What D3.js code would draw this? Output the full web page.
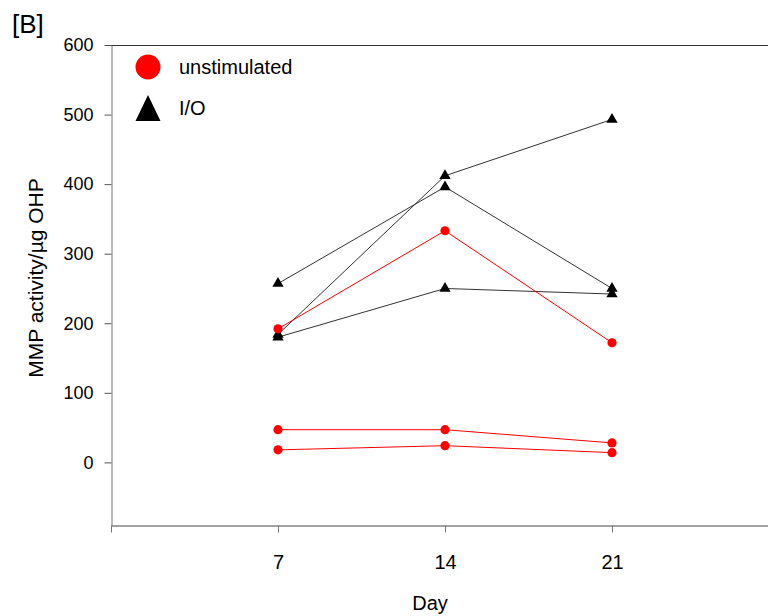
<!DOCTYPE html>
<html>
<head>
<meta charset="utf-8">
<script src="https://cdn.jsdelivr.net/npm/d3@7"></script>
<style>
  html, body { margin: 0; padding: 0; background: #fff; }
  text { font-family: "Liberation Sans", Arial, sans-serif; }
</style>
</head>
<body>
<svg id="chart" width="768" height="616"></svg>
<script>
// ---- data ----
const days = [7, 14, 21];
const xTickValues = [0, 7, 14, 21, 28];
const yTickValues = [0, 100, 200, 300, 400, 500, 600];
const unstimA = [192, 333, 172];
const unstimB = [47, 47, 28];
const unstimC = [18, 24, 14];
const ioA = [257, 396, 250];
const ioB = [184, 412, 493];
const ioC = [180, 250, 242];
const unstimSeries = [unstimA, unstimB, unstimC];
const ioSeries = [ioA, ioB, ioC];
const legendLabels = ["unstimulated", "I/O"];

// ---- layout ----
const svg = d3.select("#chart");
const mLeft = 111, mTop = 45, mBottom = 525, mRight = 779;
const x = d3.scaleLinear().domain([0, 28]).range([mLeft, mRight]);
const y = d3.scaleLinear().domain([-90, 600]).range([mBottom, mTop]);

// frame top line
svg.append("line").attr("x1", mLeft).attr("x2", 768).attr("y1", mTop + 0.5).attr("y2", mTop + 0.5)
  .attr("stroke", "#333").attr("stroke-width", 1);

// y axis
const yAxis = svg.append("g").attr("transform", `translate(${mLeft + 0.5},0)`)
  .call(d3.axisLeft(y).tickValues(yTickValues).tickSize(7).tickPadding(11).tickSizeOuter(0));
yAxis.select(".domain").attr("stroke", "#777");
yAxis.selectAll(".tick line").attr("stroke", "#555");
yAxis.selectAll(".tick text").attr("font-size", 18).attr("fill", "#000")
  .attr("font-family", "Liberation Sans, Arial, sans-serif");

// x axis
const xAxis = svg.append("g").attr("transform", `translate(0,${mBottom + 0.5})`)
  .call(d3.axisBottom(x).tickValues(xTickValues).tickSize(7).tickPadding(22).tickSizeOuter(0)
    .tickFormat(d => days.includes(d) ? d : ""));
xAxis.select(".domain").attr("stroke", "#444");
xAxis.selectAll(".tick line").attr("stroke", "#777");
xAxis.selectAll(".tick text").attr("font-size", 20).attr("fill", "#000")
  .attr("font-family", "Liberation Sans, Arial, sans-serif");

// axis titles
svg.append("text").attr("x", 430).attr("y", 610).attr("text-anchor", "middle")
  .attr("font-size", 20).text("Day");
svg.append("text").attr("transform", "translate(43,278) rotate(-90)").attr("text-anchor", "middle")
  .attr("font-size", 21).text("MMP activity/µg OHP");

// panel label
svg.append("text").attr("x", 12).attr("y", 33).attr("font-size", 26).text("[B]");

const line = d3.line().x((d, i) => x(days[i])).y(d => y(d));
const tri = d3.symbol().type(d3.symbolTriangle).size(55);

// I/O series
ioSeries.forEach(s => {
  svg.append("path").datum(s).attr("d", line).attr("fill", "none")
    .attr("stroke", "#333").attr("stroke-width", 1);
});
ioSeries.forEach(s => {
  svg.selectAll(null).data(s).enter().append("path")
    .attr("d", tri).attr("transform", (d, i) => `translate(${x(days[i])},${y(d)})`)
    .attr("fill", "#000");
});

// unstimulated series
unstimSeries.forEach(s => {
  svg.append("path").datum(s).attr("d", line).attr("fill", "none")
    .attr("stroke", "#ff0000").attr("stroke-width", 1);
});
unstimSeries.forEach(s => {
  svg.selectAll(null).data(s).enter().append("circle")
    .attr("cx", (d, i) => x(days[i])).attr("cy", d => y(d)).attr("r", 4.6)
    .attr("fill", "#ff0000");
});

// legend
svg.append("circle").attr("cx", 148).attr("cy", 67).attr("r", 12.5).attr("fill", "#ff0000");
svg.append("path").attr("d", "M148,95 L160.5,121 L135.5,121 Z").attr("fill", "#000");
svg.append("text").attr("x", 179).attr("y", 74).attr("font-size", 20).text(legendLabels[0]);
svg.append("text").attr("x", 179).attr("y", 115).attr("font-size", 20).text(legendLabels[1]);
</script>
</body>
</html>
